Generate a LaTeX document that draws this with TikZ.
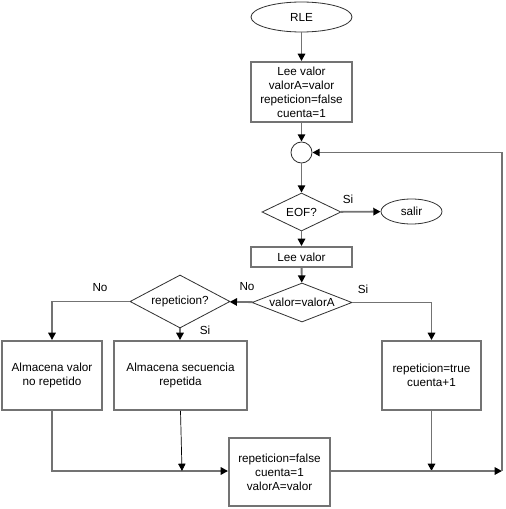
\documentclass[tikz,border=0pt]{standalone}
\usepackage{fontspec}
\setmainfont{Liberation Sans}
\usetikzlibrary{arrows.meta,shapes.geometric}
\tikzset{
	caja/.style={draw=black!55, line width=1.6pt, rectangle, inner sep=0pt, align=center},
	rombo/.style={draw=black!80, line width=0.7pt, diamond, inner sep=0pt},
	ovalo/.style={draw=black!80, line width=0.7pt, ellipse, inner sep=0pt},
	flujo/.style={draw=black!55, line width=1.6pt, -{Triangle[length=2.2mm,width=2.2mm,black]}},
	rotulo/.style={inner sep=0pt}
}

\begin{document}
\begin{tikzpicture}[x=0.03cm, y=-0.03cm]
			%%%%% START %%%%%
			\useasboundingbox (0, 0) rectangle (505, 509);
			
			\node[ovalo, minimum width=3.03cm, minimum height=0.9cm] (rle) at (301.5, 17) {RLE};
			\node[caja, minimum width=3.03cm, minimum height=1.8cm] (lee1) at (301.5, 92) {Lee valor\\valorA=valor\\repeticion=false\\cuenta=1};
			\node[circle, draw=black!80, line width=0.7pt, minimum size=0.63cm, inner sep=0pt] (cnx) at (301.5, 152.5) {};
			\node[rombo, shape aspect=2.08, minimum width=2.37cm, minimum height=1.14cm] (eof) at (301.5, 212) {EOF?};
			\node[ovalo, minimum width=1.83cm, minimum height=0.75cm] (salir) at (411.5, 211.5) {salir};
			\node[caja, minimum width=3.03cm, minimum height=0.6cm] (lee2) at (301.5, 257) {Lee valor};
			\node[rombo, shape aspect=2.56, minimum width=3.0cm, minimum height=1.17cm] (igual) at (302, 302.5) {valor=valorA};
			\node[rombo, shape aspect=1.89, minimum width=3.0cm, minimum height=1.59cm] (rep) at (180, 301.5) {repeticion?};
			
			\node[caja, minimum width=3.0cm, minimum height=2.07cm] (almval) at (52, 375.5) {Almacena valor\\no repetido};
			\node[caja, minimum width=3.99cm, minimum height=2.07cm] (almsec) at (180.5, 375.5) {Almacena secuencia\\repetida};
			\node[caja, minimum width=2.97cm, minimum height=2.07cm] (reptrue) at (431.5, 375.5) {repeticion=true\\cuenta+1};
			\node[caja, minimum width=3.03cm, minimum height=2.04cm] (reset) at (279.5, 472) {repeticion=false\\cuenta=1\\valorA=valor};
			
			\coordinate (j1) at (182, 471);
			\coordinate (j2) at (431.5, 471);
			\coordinate (r1) at (502, 471);
			
			\node[rotulo] (si1) at (348, 199) {Si};
			\node[rotulo] (no1) at (247, 287) {No};
			\node[rotulo] (si2) at (363, 289) {Si};
			\node[rotulo] (no2) at (100, 288) {No};
			\node[rotulo] (si3) at (205, 330) {Si};
			
			\draw[flujo] (rle) -- (lee1);
			\draw[flujo] (lee1) -- (cnx);
			\draw[flujo] (cnx) -- (eof);
			\draw[flujo] (eof) -- (salir);
			\draw[flujo] (eof) -- (lee2);
			\draw[flujo] (lee2) -- (igual);
			\draw[flujo] (igual) -- (rep);
			\draw[flujo] (rep.west) -| (almval.north);
			\draw[flujo] (rep.south) -- (rep.south |- almsec.north);
			\draw[flujo] (igual.east) -| (reptrue.north);
			
			\draw[flujo] (almval.south) |- (reset.west |- j1);
			\draw[line width=0.6pt, -{Triangle[length=2.2mm,width=2.2mm]}] (almsec.south) -- (j1);
			\draw[flujo] (reptrue.south) -- (j2);
			\draw[flujo] (reset.east |- r1) -- (r1);
			\draw[flujo] (r1) |- (cnx.east);
			
			%%%%% END %%%%%
\end{tikzpicture}
\end{document}
